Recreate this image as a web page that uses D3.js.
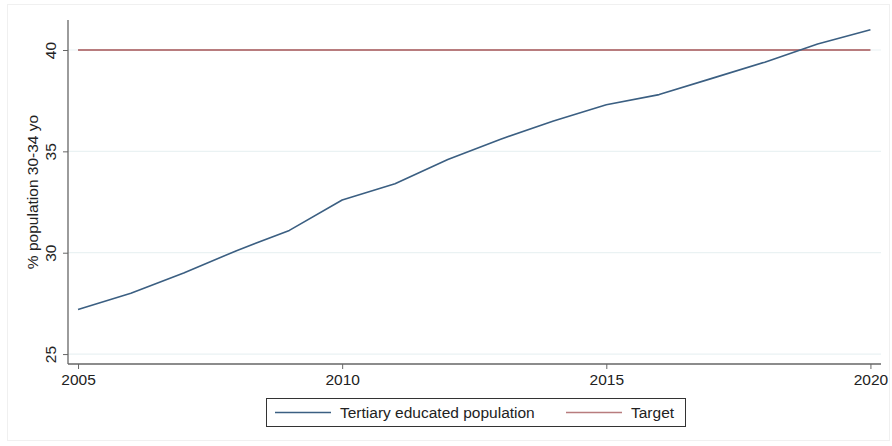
<!DOCTYPE html>
<html lang="en">
<head>
    <meta charset="UTF-8">
    <title>Tertiary educated population vs target</title>
    <script src="https://d3js.org/d3.v7.min.js"></script>
    <style>
        body { margin: 0; background: #fff; }
        text { font-family: "Liberation Sans", Arial, sans-serif; fill: #222; }
    </style>
</head>
<body>
    <div id="chart"></div>

    <script>
        const width = 892, height = 446;

        // data
        const years = [2005, 2006, 2007, 2008, 2009, 2010, 2011, 2012, 2013, 2014, 2015, 2016, 2017, 2018, 2019, 2020];
        const tertiary = [27.2, 28.0, 29.0, 30.1, 31.1, 32.6, 33.4, 34.6, 35.6, 36.5, 37.3, 37.8, 38.6, 39.4, 40.3, 41.0];
        const target = years.map(() => 40);
        const xTicks = [2005, 2010, 2015, 2020];
        const yTicks = [25, 30, 35, 40];
        const seriesNames = ["Tertiary educated population", "Target"];
        const seriesColors = ["#3b5f82", "#b87c7e"];

        const plot = { left: 68, right: 881, top: 20, bottom: 364 };
        const fontSize = 15.5;

        const svg = d3.select("#chart")
                      .append("svg")
                      .attr("width", width)
                      .attr("height", height);

        // faint outer frame
        svg.append("rect")
           .attr("x", 7.5).attr("y", 4.5)
           .attr("width", 882).attr("height", 436)
           .attr("fill", "none")
           .attr("stroke", "#f0f0f0");

        const x = d3.scaleLinear()
                    .domain([2004.81, 2020.2])
                    .range([plot.left, plot.right]);
        const y = d3.scaleLinear()
                    .domain([24.51, 41.48])
                    .range([plot.bottom, plot.top]);

        // gridlines
        svg.append("g")
           .selectAll("line")
           .data(yTicks)
           .join("line")
           .attr("x1", plot.left)
           .attr("x2", plot.right)
           .attr("y1", d => y(d))
           .attr("y2", d => y(d))
           .attr("stroke", "#eaf2f3")
           .attr("stroke-width", 1.2);

        // x axis
        const xAxis = svg.append("g")
           .attr("transform", `translate(0,${plot.bottom})`)
           .call(d3.axisBottom(x).tickValues(xTicks).tickFormat(d3.format("d")).tickSize(5).tickSizeOuter(0));
        xAxis.select(".domain").attr("stroke", "#666").attr("stroke-width", 1.3)
             .attr("d", `M${plot.left},0H${plot.right}`);
        xAxis.selectAll(".tick line").attr("stroke", "#666");
        xAxis.selectAll(".tick text").attr("font-size", fontSize).attr("dy", "0.85em").attr("fill", "#222");

        // y axis
        const yAxis = svg.append("g")
           .attr("transform", `translate(${plot.left},0)`)
           .call(d3.axisLeft(y).tickValues(yTicks).tickSize(5).tickSizeOuter(0));
        yAxis.select(".domain").attr("stroke", "#666").attr("stroke-width", 1.3)
             .attr("d", `M0,${plot.top}V${plot.bottom}`);
        yAxis.selectAll(".tick line").attr("stroke", "#666");
        yAxis.selectAll(".tick text")
             .attr("font-size", fontSize)
             .attr("fill", "#222")
             .attr("x", null)
             .attr("text-anchor", "middle")
             .attr("transform", "translate(-17,0) rotate(-90)")
             .attr("y", 0)
             .attr("dy", "0.35em");

        // y title
        svg.append("text")
           .attr("transform", `translate(38,${(plot.top + plot.bottom) / 2}) rotate(-90)`)
           .attr("text-anchor", "middle")
           .attr("font-size", fontSize)
           .text("% population 30-34 yo");

        const line = d3.line()
                       .x((d, i) => x(years[i]))
                       .y(d => y(d));

        svg.append("path")
           .datum(target)
           .attr("fill", "none")
           .attr("stroke", seriesColors[1])
           .attr("stroke-width", 2)
           .attr("d", line);

        svg.append("path")
           .datum(tertiary)
           .attr("fill", "none")
           .attr("stroke", seriesColors[0])
           .attr("stroke-width", 1.6)
           .attr("stroke-linejoin", "round")
           .attr("d", line);

        // legend
        const legend = svg.append("g");
        legend.append("rect")
              .attr("x", 266.5).attr("y", 398.5)
              .attr("width", 419).attr("height", 28)
              .attr("fill", "#fff")
              .attr("stroke", "#333");
        const items = [
            { x: 275, name: seriesNames[0], color: seriesColors[0] },
            { x: 566, name: seriesNames[1], color: seriesColors[1] }
        ];
        items.forEach(it => {
            legend.append("line")
                  .attr("x1", it.x).attr("x2", it.x + 56)
                  .attr("y1", 412.5).attr("y2", 412.5)
                  .attr("stroke", it.color)
                  .attr("stroke-width", 1.6);
            legend.append("text")
                  .attr("x", it.x + 65)
                  .attr("y", 413)
                  .attr("dy", "0.35em")
                  .attr("font-size", fontSize)
                  .text(it.name);
        });
    </script>
</body>
</html>
